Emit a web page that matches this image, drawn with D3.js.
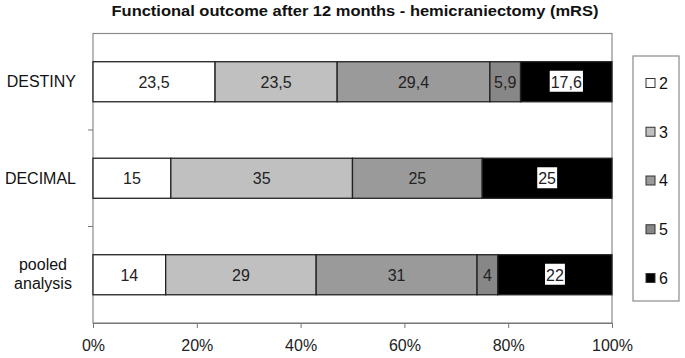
<!DOCTYPE html>
<html>
<head>
<meta charset="utf-8">
<script src="https://cdn.jsdelivr.net/npm/d3@7"></script>
<style>
  body { margin: 0; background: #fff; }
  svg, svg text { font-family: "Liberation Sans", Arial, sans-serif; }
</style>
</head>
<body>
<div id="chart"></div>
<script>
// data (percent)
var studies = ["DESTINY", "DECIMAL", "pooled analysis"];
var grades = ["2", "3", "4", "5", "6"];
var destiny = [23.5, 23.5, 29.4, 5.9, 17.6];
var decimal = [15, 35, 25, 0, 25];
var pooled = [14, 29, 31, 4, 22];
var xTicks = [0, 0.2, 0.4, 0.6, 0.8, 1];
var colors = ["#ffffff", "#c0c0c0", "#9a9a9a", "#878787", "#000000"];

var width = 685, height = 358;
var margin = {top: 33.5, right: 73, bottom: 35, left: 93};

var svg = d3.select("#chart").append("svg")
  .attr("width", width)
  .attr("height", height);

var rows = [destiny, decimal, pooled].map(function (vals, i) {
  var o = {study: studies[i]};
  var total = d3.sum(vals);
  grades.forEach(function (g, j) { o[g] = vals[j] / total; o["v" + g] = vals[j]; });
  return o;
});

var series = d3.stack().keys(grades)(rows);

var x = d3.scaleLinear()
  .domain([0, 1])
  .range([margin.left, width - margin.right]);

var y = d3.scaleBand()
  .domain(studies)
  .range([margin.top, height - margin.bottom])
  .paddingInner(0.585)
  .paddingOuter(0.2925);

// plot frame
svg.append("rect")
  .attr("x", x(0))
  .attr("y", margin.top)
  .attr("width", x(1) - x(0))
  .attr("height", height - margin.bottom - margin.top)
  .attr("fill", "none")
  .attr("stroke", "#8a8a8a")
  .attr("stroke-width", 1.2);

// bottom axis
var xAxis = svg.append("g")
  .attr("transform", "translate(0," + (height - margin.bottom) + ")")
  .call(d3.axisBottom(x).tickValues(xTicks).tickFormat(d3.format(".0%")).tickSizeInner(5).tickSizeOuter(0).tickPadding(12));
xAxis.attr("font-family", null);
xAxis.select(".domain").attr("stroke", "#777");
xAxis.selectAll(".tick line").attr("stroke", "#777");
xAxis.selectAll("text").attr("font-size", 16).attr("fill", "#222");

// left axis: ticks between categories
var sepTicks = [1, 2].map(function (k) { return margin.top + k * (height - margin.bottom - margin.top) / 3; });
svg.selectAll(".sep").data(sepTicks).enter().append("line")
  .attr("x1", x(0) - 5).attr("x2", x(0))
  .attr("y1", function (d) { return d; }).attr("y2", function (d) { return d; })
  .attr("stroke", "#777");

// category labels
var catLabels = svg.append("g").selectAll("text")
  .data(studies).enter().append("text")
  .attr("font-size", 16)
  .attr("fill", "#111")
  .attr("text-anchor", function (d) { return d === "pooled analysis" ? "middle" : "end"; })
  .attr("x", function (d) { return d === "pooled analysis" ? 43 : 76; })
  .attr("y", function (d) { return y(d) + y.bandwidth() / 2; });
catLabels.each(function (d) {
  var t = d3.select(this);
  var parts = d === "pooled analysis" ? ["pooled", "analysis"] : [d];
  parts.forEach(function (p, i) {
    t.append("tspan")
      .attr("x", t.attr("x"))
      .attr("dy", parts.length === 1 ? "0.35em" : (i === 0 ? "-0.3em" : "1.2em"))
      .text(p);
  });
});

// bars
var layer = svg.append("g").selectAll("g")
  .data(series).enter().append("g")
  .attr("fill", function (d, i) { return colors[i]; });

layer.selectAll("rect")
  .data(function (d) { return d; })
  .enter().filter(function (d) { return d[1] - d[0] > 0; }).append("rect")
  .attr("x", function (d) { return x(d[0]); })
  .attr("y", function (d) { return y(d.data.study); })
  .attr("width", function (d) { return x(d[1]) - x(d[0]); })
  .attr("height", y.bandwidth())
  .attr("stroke", "#222")
  .attr("stroke-width", 1.3);

// value labels
var fmt = function (v) { return String(v).replace(".", ","); };
var labels = svg.append("g");
series.forEach(function (s) {
  s.forEach(function (d) {
    if (d[1] - d[0] <= 0) return;
    var cx = (x(d[0]) + x(d[1])) / 2;
    var cy = y(d.data.study) + y.bandwidth() / 2;
    var txt = fmt(d.data["v" + s.key]);
    var t = labels.append("text")
      .attr("x", cx)
      .attr("y", cy)
      .attr("dy", "0.36em")
      .attr("text-anchor", "middle")
      .attr("font-size", 16)
      .attr("fill", "#222")
      .text(txt);
    if (s.key === "6") {
      var bb = t.node().getBBox();
      labels.insert("rect", function () { return t.node(); })
        .attr("x", bb.x - 1).attr("y", cy - 11)
        .attr("width", bb.width + 2).attr("height", 21)
        .attr("fill", "#fff");
    }
  });
});

// title
svg.append("text")
  .attr("x", 355)
  .attr("y", 16)
  .attr("text-anchor", "middle")
  .attr("font-size", 15)
  .attr("font-weight", "bold")
  .attr("fill", "#111")
  .attr("textLength", 487)
  .attr("lengthAdjust", "spacingAndGlyphs")
  .text("Functional outcome after 12 months - hemicraniectomy (mRS)");

// legend
var legend = svg.append("g");
legend.append("rect")
  .attr("x", 633).attr("y", 56)
  .attr("width", 46).attr("height", 245)
  .attr("fill", "#fff")
  .attr("stroke", "#8a8a8a")
  .attr("stroke-width", 1.2);

var ly = d3.scalePoint().domain(grades).range([83, 278]);
var item = legend.selectAll(".item")
  .data(grades).enter().append("g")
  .attr("transform", function (d) { return "translate(646," + ly(d) + ")"; });
item.append("rect")
  .attr("x", 0).attr("y", -4.5)
  .attr("width", 9).attr("height", 9)
  .attr("fill", function (d, i) { return colors[i]; })
  .attr("stroke", "#333");
item.append("text")
  .attr("x", 13)
  .attr("dy", "0.36em")
  .attr("font-size", 16)
  .attr("fill", "#111")
  .text(function (d) { return d; });
</script>
</body>
</html>
